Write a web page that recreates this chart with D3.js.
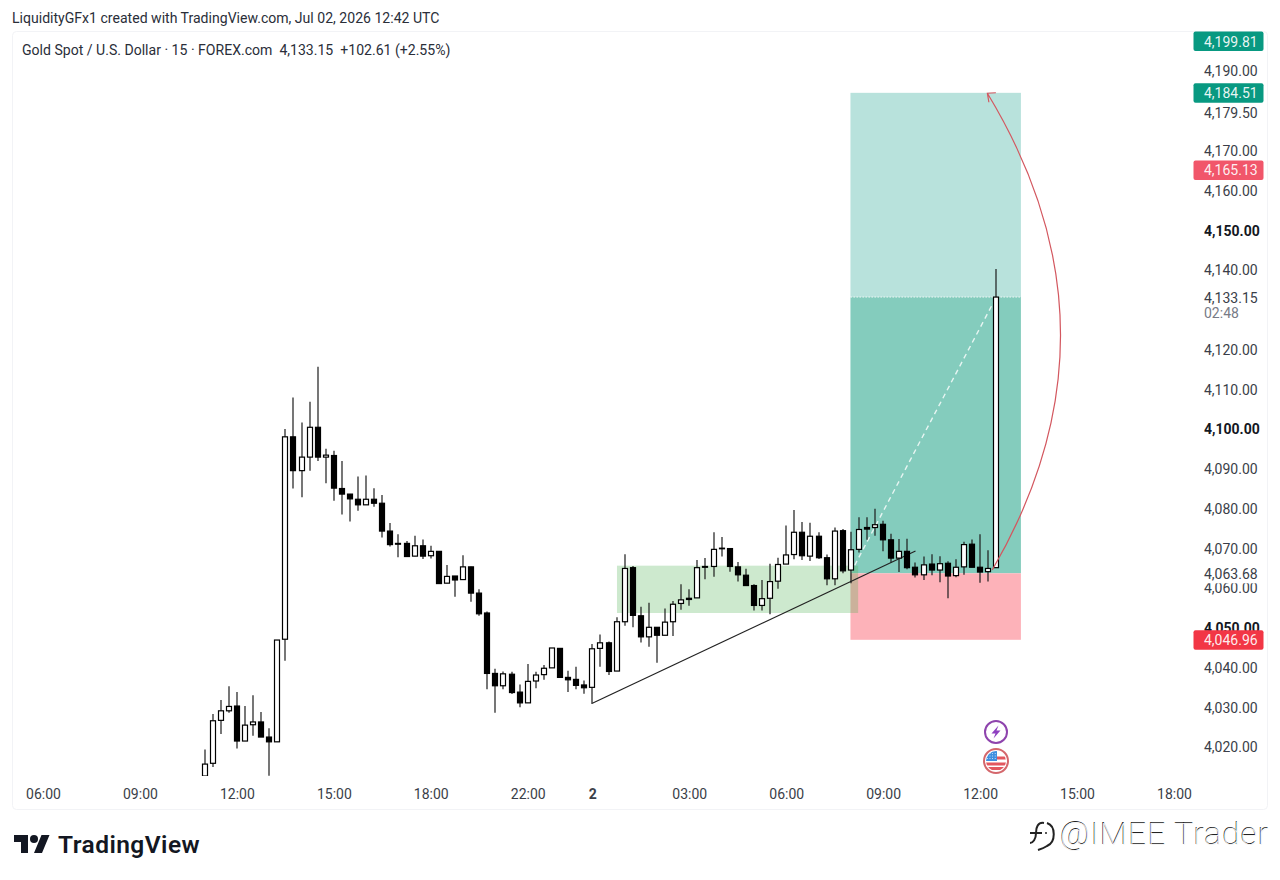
<!DOCTYPE html>
<html>
<head>
<meta charset="utf-8">
<title>Gold Spot / U.S. Dollar</title>
<script src="https://cdn.jsdelivr.net/npm/d3@7/dist/d3.min.js"></script>
<style>
  html, body { margin: 0; padding: 0; background: #fff; }
  svg { display: block; }
  text { font-family: Roboto, sans-serif; }
</style>
</head>
<body>
<script>
// 15-minute XAUUSD candles. Bar index 0 is the 06:00 slot on the first session.
const firstBar = 20;
const opens = [4012.7,4015.9,4026.7,4029.1,4030.3,4021.5,4025.6,4026.3,4022.5,4021.3,4047.1,4098,4089.5,4092.9,4100.4,4092.9,4093.3,4085,4083.6,4082.3,4080.9,4082.3,4081.3,4074.3,4071.2,4071.2,4068,4070.6,4068.1,4069.2,4061.2,4063,4062.1,4065.3,4058.7,4053.7,4038.5,4035.4,4038.3,4033.8,4031.1,4036.6,4038.2,4039.9,4044.8,4037.5,4037,4035.6,4035,4044.8,4046.2,4039.1,4051.5,4065.1,4053,4047.7,4050.1,4048.1,4051.5,4056.1,4057.4,4057.5,4065.4,4065.4,4069.9,4069.9,4065.3,4063.2,4060.6,4055.6,4057.4,4061.7,4066,4068.4,4074,4068,4073,4067.6,4062.3,4074.4,4064.5,4069.7,4075.2,4075.2,4076,4072.1,4067.5,4069.2,4065.2,4063.3,4066,4064.5,4066.2,4063.1,4065.3,4071,4065.2,4064.1,4065.1];
const highs = [4019.4,4028.3,4031.8,4035.3,4033.8,4030.3,4033,4028.8,4024.7,4046.9,4100,4107.9,4101.6,4106.8,4115.6,4095,4094.5,4091.9,4083.6,4088,4088.3,4085.1,4083.4,4076.3,4073.5,4071.8,4073.1,4072.2,4070.6,4069.2,4065.8,4063,4068.2,4065.3,4059.7,4054.1,4039.7,4039,4038.9,4035.7,4040.9,4038.9,4040.6,4044.9,4044.8,4039.2,4040.2,4036.7,4045.9,4048.3,4046.5,4052.6,4068.5,4065.5,4055.3,4056.3,4050.1,4054.8,4056.7,4060.9,4059.7,4067,4067.5,4074,4072.8,4069.9,4066.5,4064.8,4060.9,4062,4066.1,4067.6,4075.7,4079.6,4076.6,4076.4,4074,4068.4,4075.2,4074.8,4074.1,4077.8,4077.8,4079.9,4076.9,4073.6,4072.3,4072.4,4066.4,4067.9,4068.5,4068,4066.7,4067.2,4071.6,4072.2,4073.5,4069.5,4140.2];
const lows = [4012.7,4015,4023.3,4028.6,4019.6,4021.5,4022.8,4022.5,4012.8,4021.3,4041.7,4085,4082.8,4089.5,4091.9,4086.3,4081.9,4078.5,4076.7,4079.4,4080.9,4080.4,4072.7,4070.4,4067.7,4067.9,4068,4067.3,4067.4,4061.1,4061.2,4057.8,4062.1,4056.5,4053,4034.5,4028.6,4034.5,4033.3,4030,4031.1,4034.8,4036.9,4039.9,4037.5,4033.8,4034.5,4033.4,4030.8,4040.2,4038.1,4039.1,4050.5,4050.1,4046.3,4045.2,4041.2,4048.1,4047.9,4054.5,4055.5,4057.5,4062.2,4062.8,4067.9,4064.1,4061.6,4060.6,4054.3,4054.3,4053.4,4059.8,4066,4067.2,4067,4066.8,4067.3,4060.7,4060.7,4063.7,4061.2,4068.9,4072.1,4073.1,4069.2,4066.4,4064,4064.7,4062.6,4062,4063.2,4061.4,4057.4,4062.7,4063.3,4065.2,4061.3,4061.6,4065.1];
const closes = [4015.7,4026.6,4029.1,4030.2,4021.5,4025.5,4026.3,4022.5,4021.3,4046.9,4098,4089.5,4092.9,4100.4,4092.9,4093.4,4085.1,4083.6,4082.4,4080.9,4082.3,4081.3,4074.3,4070.9,4071,4067.9,4070.6,4068,4069.2,4061.1,4062.9,4062,4065.3,4058.7,4053.5,4038.5,4035.4,4038.4,4033.7,4031.1,4036.5,4038.1,4039.8,4044.9,4037.5,4036.9,4035.5,4034.9,4044.7,4046.2,4039,4051.5,4064.9,4053.1,4047.7,4050.1,4048.1,4051.4,4055.9,4057,4057.1,4065.1,4065.2,4069.7,4070,4065.4,4063.3,4060.6,4055.6,4057.3,4061.6,4065.9,4068.3,4074,4068.1,4073,4067.6,4062.3,4074.3,4064.3,4069.6,4074.7,4074.8,4075.9,4072.1,4067.5,4069.2,4065.1,4063.3,4065.8,4064.5,4066.1,4063,4065.2,4070.9,4065.2,4064,4064.9,4133.15];

// Axes
const priceTicks = [4190,4179.5,4170,4160,4150,4140,4120,4110,4100,4090,4080,4070,4060,4050,4040,4030,4020];
const boldPrices = [4150,4100,4050];
const timeTickBars = [0,12,24,36,48,60,68,80,92,104,116,128,140];
const timeTickLabels = ["06:00","09:00","12:00","15:00","18:00","22:00","2","03:00","06:00","09:00","12:00","15:00","18:00"];

// Long-position tool
const entryPrice = 4063.68;
const targetPrice = 4184.51;
const stopPrice = 4046.96;
const lastPrice = 4133.15;
const positionBars = [99.95, 121.05];

// Other drawings
const zoneBars = [71.05, 100.9];
const zonePrices = [4065.6, 4053.7];
const trendBars = [68, 108];
const trendPrices = [4031, 4069.3];
const arcBars = [117.5, 134.7, 116.9];
const arcPrices = [4064.5, 4124.7, 4184.4];

// Coloured price tags: label, price, fill (the first tag is pinned to the pane top)
const tagLabels = ["4,199.81","4,184.51","4,165.13","4,046.96"];
const tagPrices = [4199.81,4184.51,4165.13,4046.96];
const tagColors = ["#089981","#089981","#f1566a","#f23645"];

const W = 1280, H = 880;
const x = d3.scaleLinear().domain([0,140]).range([43,1174]);
const y = d3.scaleLinear().domain([4020,4190]).range([747,71]);

const svg = d3.select("body").append("svg").attr("width",W).attr("height",H);

// Header lines
svg.append("text").attr("x",12).attr("y",23).attr("font-size",14.07).attr("fill","#2a2e39")
  .text("LiquidityGFx1 created with TradingView.com, Jul 02, 2026 12:42 UTC");

// Pane frame
svg.append("rect").attr("x",12.5).attr("y",31.5).attr("width",1255).attr("height",778).attr("rx",4)
  .attr("fill","none").attr("stroke","#f2f3f6");

svg.append("text").attr("x",22).attr("y",55).attr("font-size",14.07).attr("fill","#2a2e39").attr("xml:space","preserve")
  .text("Gold Spot / U.S. Dollar · 15 · FOREX.com  4,133.15  +102.61 (+2.55%)");

const defs = svg.append("defs");
defs.append("clipPath").attr("id","pane").append("rect").attr("x",13).attr("y",32).attr("width",1180).attr("height",744);
defs.append("clipPath").attr("id","flag").append("circle").attr("cx",996).attr("cy",761).attr("r",10);

const plot = svg.append("g").attr("clip-path","url(#pane)");

// Position tool fills
const posX = x(positionBars[0]), posW = x(positionBars[1]) - posX;
plot.append("rect").attr("x",posX).attr("width",posW).attr("y",y(targetPrice)).attr("height",y(lastPrice)-y(targetPrice)).attr("fill","#b8e2dc");
plot.append("rect").attr("x",posX).attr("width",posW).attr("y",y(lastPrice)).attr("height",y(entryPrice)-y(lastPrice)).attr("fill","#84ccbd");
plot.append("rect").attr("x",posX).attr("width",posW).attr("y",y(entryPrice)).attr("height",y(stopPrice)-y(entryPrice)).attr("fill","#fdb2b9");
plot.append("line").attr("x1",posX).attr("x2",posX+posW).attr("y1",y(lastPrice)).attr("y2",y(lastPrice))
  .attr("stroke","#fff").attr("stroke-opacity",.8).attr("stroke-dasharray","1.5 1.5");
plot.append("line").attr("x1",x(positionBars[0])).attr("y1",y(entryPrice)).attr("x2",x(118)).attr("y2",y(lastPrice))
  .attr("stroke","#fff").attr("stroke-opacity",.8).attr("stroke-width",1.4).attr("stroke-dasharray","5 4");

// Consolidation zone
plot.append("rect").attr("x",x(zoneBars[0])).attr("width",x(zoneBars[1])-x(zoneBars[0]))
  .attr("y",y(zonePrices[0])).attr("height",y(zonePrices[1])-y(zonePrices[0]))
  .attr("fill","#4caf50").attr("fill-opacity",.28);

// Trend line
plot.append("line").attr("x1",x(trendBars[0])).attr("y1",y(trendPrices[0])).attr("x2",x(trendBars[1])).attr("y2",y(trendPrices[1]))
  .attr("stroke","#222").attr("stroke-width",1.2);

// Candles
const candles = opens.map((o,i)=>({bar:firstBar+i,o,h:highs[i],l:lows[i],c:closes[i]}));
const cg = plot.selectAll("g.candle").data(candles).join("g").attr("class","candle");
cg.append("line")
  .attr("x1",d=>Math.round(x(d.bar))).attr("x2",d=>Math.round(x(d.bar)))
  .attr("y1",d=>y(d.h)).attr("y2",d=>y(d.l))
  .attr("stroke","#1c1c1c").attr("stroke-width",1.2);
cg.append("rect")
  .attr("x",d=>Math.round(x(d.bar))-2.5).attr("width",5)
  .attr("y",d=>y(Math.max(d.o,d.c))).attr("height",d=>Math.max(.6,Math.abs(y(d.o)-y(d.c))))
  .attr("fill",d=>d.c>=d.o?"#fff":"#000").attr("stroke","#000").attr("stroke-width",1.2);

// Projected move arc with arrow head
const arc = d3.path();
arc.moveTo(x(arcBars[0]),y(arcPrices[0]));
arc.quadraticCurveTo(x(arcBars[1]),y(arcPrices[1]),x(arcBars[2]),y(arcPrices[2]));
const tipX = x(arcBars[2]), tipY = y(arcPrices[2]);
arc.moveTo(tipX+8.5,tipY-0.5); arc.lineTo(tipX,tipY); arc.lineTo(tipX+1.5,tipY+9);
svg.append("path").attr("d",arc.toString()).attr("fill","none").attr("stroke","#d3575f").attr("stroke-width",1.2);

// Price axis
const yAxis = d3.axisRight(y).tickValues(priceTicks).tickSize(0).tickPadding(0).tickFormat(d3.format(",.2f"));
const yg = svg.append("g").attr("transform","translate(1204,0.5)").call(yAxis);
yg.select(".domain").remove();
yg.selectAll("text").attr("font-size",14).attr("font-family","Roboto, sans-serif")
  .attr("font-weight",d=>boldPrices.includes(d)?700:400).attr("fill",d=>boldPrices.includes(d)?"#131722":"#3a3e48");

// White-backed plain price labels
function plainTag(value, fontColor){
  const py = y(value);
  svg.append("rect").attr("x",1200).attr("y",py-9).attr("width",64).attr("height",19).attr("fill","#fff");
  svg.append("text").attr("x",1204).attr("y",py+5.5).attr("font-size",14).attr("fill",fontColor).text(d3.format(",.2f")(value));
}
plainTag(entryPrice,"#3a3e48");
plainTag(lastPrice,"#3a3e48");
svg.append("text").attr("x",1204).attr("y",y(lastPrice)+21).attr("font-size",14).attr("fill","#787b86").text("02:48");

// Coloured price tags
tagLabels.forEach((t,i)=>{
  const py = y(tagPrices[i]);
  const top = Math.max(31.5, py-9.5);
  svg.append("rect").attr("x",1193.5).attr("y",top).attr("width",70).attr("height",19.5).attr("rx",2).attr("fill",tagColors[i]);
  svg.append("text").attr("x",1204).attr("y",top+15).attr("font-size",14).attr("fill","#fff").attr("fill-opacity",.92).text(t);
});

// Time axis
const xAxis = d3.axisBottom(x).tickValues(timeTickBars).tickSize(0).tickPadding(0)
  .tickFormat((d,i)=>timeTickLabels[i]);
const xg = svg.append("g").attr("transform","translate(0,789)").call(xAxis);
xg.select(".domain").remove();
xg.selectAll("text").attr("font-size",14).attr("font-family","Roboto, sans-serif").attr("fill","#3a3e48")
  .attr("font-weight",d=>d===68?700:400);

// Event markers under the candles
const ev = svg.append("g");
ev.append("circle").attr("cx",996).attr("cy",732).attr("r",11).attr("fill","#fff").attr("stroke","#8e44ad").attr("stroke-width",2);
ev.append("path").attr("d","M998.5 725.5 L991.5 733.5 H995.5 L993.5 738.5 L1000.5 730.5 H996.5 Z").attr("fill","#8e3fc0");
ev.append("circle").attr("cx",996).attr("cy",761).attr("r",12).attr("fill","#fff").attr("stroke","#d4676c").attr("stroke-width",2);
const fl = ev.append("g").attr("clip-path","url(#flag)");
fl.append("rect").attr("x",986).attr("y",751).attr("width",20).attr("height",20).attr("fill","#fff");
fl.append("rect").attr("x",996).attr("y",756.5).attr("width",11).attr("height",3).attr("fill","#e2575f");
fl.append("rect").attr("x",986).attr("y",762.5).attr("width",20).attr("height",3).attr("fill","#e2575f");
fl.append("rect").attr("x",986).attr("y",767).attr("width",20).attr("height",3).attr("fill","#e2575f");
fl.append("rect").attr("x",986).attr("y",751).attr("width",11).attr("height",10).attr("fill","#3f8fe0");
d3.range(3).forEach(r=>d3.range(4).forEach(c=>{
  fl.append("rect").attr("x",987+c*2.6).attr("y",753+r*2.6).attr("width",.8).attr("height",.8).attr("fill","#fff");
}));

// TradingView wordmark
const logo = svg.append("g").attr("transform","translate(14,831)").attr("fill","#131722");
logo.append("path").attr("d","M14 22H7V11H0V4h14v18zM28 22h-8l7.5-18h8L28 22z");
logo.append("circle").attr("cx",20).attr("cy",8).attr("r",4);
svg.append("text").attr("x",58).attr("y",853).attr("font-family","Inter, sans-serif").attr("font-size",24.5).attr("font-weight",600)
  .attr("letter-spacing",0.45).attr("fill","#131722").text("TradingView");

// Embossed social handle
const wm = svg.append("g");
wm.append("path").attr("d","M1044 823 C1038 822 1036 827 1036 833 C1036 839 1033 843 1030 843 M1030 833 H1042 M1047 823 C1056 826 1056 842 1047 846 C1044 848 1041 849 1038 850")
  .attr("fill","none").attr("stroke","#222").attr("stroke-width",2);
wm.append("circle").attr("cx",1046).attr("cy",833).attr("r",1).attr("fill","#222");
wm.append("text").attr("x",1059.4).attr("y",844.4).attr("font-family","Roboto, sans-serif").attr("font-weight",100).attr("font-size",32).attr("letter-spacing",0.95).attr("fill","#222").text("@IMEE Trader");
wm.append("text").attr("x",1060).attr("y",844.8).attr("font-family","Roboto, sans-serif").attr("font-weight",100).attr("font-size",32).attr("letter-spacing",0.95).attr("fill","#f4f4f4").text("@IMEE Trader");
</script>
</body>
</html>
